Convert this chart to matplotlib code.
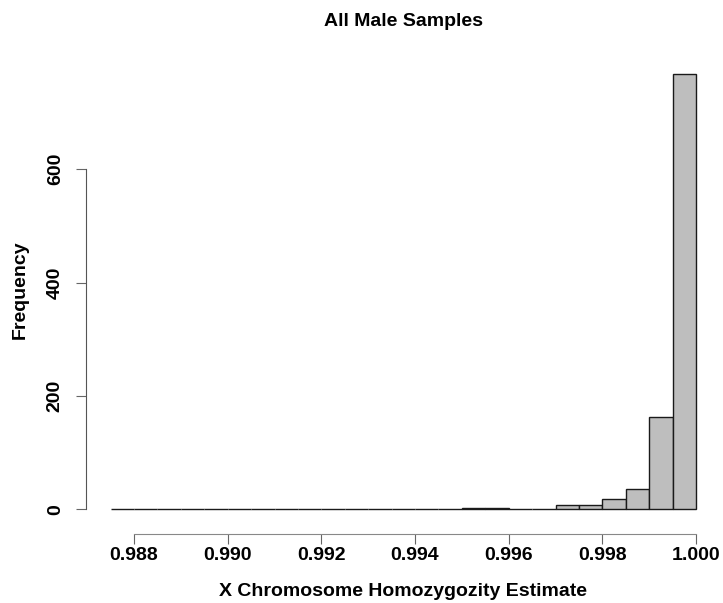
import numpy as np
import matplotlib.pyplot as plt

# histogram of X chromosome homozygosity, bins of width 0.0005
bin_start = 0.9875
bin_width = 0.0005
counts = [0, 0, 0, 0, 0, 0, 0, 0, 0, 0, 0, 0, 0, 0,
          1, 3, 3, 1, 1, 7, 7, 18, 35, 162, 768]
xticks = [0.988, 0.990, 0.992, 0.994, 0.996, 0.998, 1.000]
xtick_labels = ["0.988", "0.990", "0.992", "0.994", "0.996", "0.998", "1.000"]
yticks = [0, 200, 400, 600]

plt.rcParams['font.family'] = ['Liberation Sans', 'DejaVu Sans']

fig = plt.figure(figsize=(7.23, 6.03), dpi=100)
ax = fig.add_axes([86/723, (603-534)/603, (720-86)/723, (534-57)/603])

edges = bin_start + bin_width * np.arange(len(counts))
ax.bar(edges, counts, width=bin_width, align='edge',
       color='#bebebe', edgecolor='#1a1a1a', linewidth=1.0)

ax.set_xlim(0.986975, 1.000512)
ax.set_ylim(-43.6, 798)

for s in ['top', 'right']:
    ax.spines[s].set_visible(False)
ax.spines['left'].set_bounds(0, 600)
ax.spines['bottom'].set_bounds(0.988, 1.0)
ax.spines['left'].set_color('#555555')
ax.spines['bottom'].set_color('#888888')

ax.set_xticks(xticks)
ax.set_xticklabels(xtick_labels, fontsize=14, fontweight='bold')
ax.set_yticks(yticks)
ax.set_yticklabels([str(v) for v in yticks], fontsize=14, fontweight='bold',
                   rotation=90, va='center')
ax.tick_params(axis='x', length=7, pad=2, color='#666666')
ax.tick_params(axis='y', length=7, pad=9, color='#666666')

fig.text(403/723, 1 - 22/603, "All Male Samples", ha='center', va='center',
         fontsize=14, fontweight='bold')
fig.text(403/723, 1 - 592/603, "X Chromosome Homozygozity Estimate",
         ha='center', va='center', fontsize=14, fontweight='bold')
fig.text(20/723, 1 - 290/603, "Frequency", ha='center', va='center',
         rotation=90, fontsize=14, fontweight='bold')

fig.savefig("out.png", dpi=100)
